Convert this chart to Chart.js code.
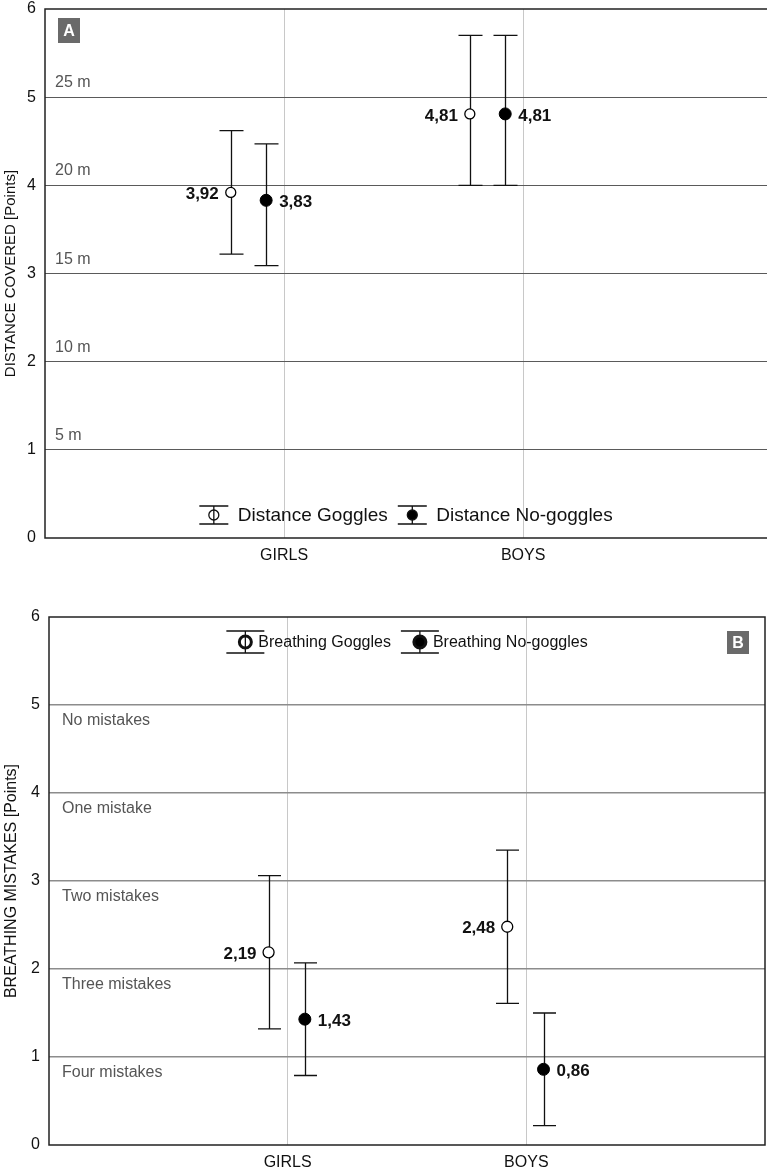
<!DOCTYPE html>
<html>
<head>
<meta charset="utf-8">
<script src="https://cdn.jsdelivr.net/npm/chart.js@4.4.1/dist/chart.umd.min.js"></script>
<style>
  body { margin: 0; background: #fff; }
  canvas { position: absolute; left: 0; }
  #chartA { top: 0; }
  #chartB { top: 578px; }
</style>
</head>
<body>
<canvas id="chartA" width="767" height="575"></canvas>
<canvas id="chartB" width="767" height="594"></canvas>
<script>
// data
const categories = ['GIRLS', 'BOYS'];
const yTicks = [0, 1, 2, 3, 4, 5, 6];

// panel A - distance covered
const distGoggles = [3.92, 4.81];
const distGogglesUp = [4.62, 5.70];
const distGogglesLow = [3.22, 4.00];
const distNoGoggles = [3.83, 4.81];
const distNoGogglesUp = [4.47, 5.70];
const distNoGogglesLow = [3.09, 4.00];
const distLevels = ['5 m', '10 m', '15 m', '20 m', '25 m'];

// panel B - breathing mistakes
const breGoggles = [2.19, 2.48];
const breGogglesUp = [3.06, 3.35];
const breGogglesLow = [1.32, 1.61];
const breNoGoggles = [1.43, 0.86];
const breNoGogglesUp = [2.07, 1.50];
const breNoGogglesLow = [0.79, 0.22];
const breLevels = ['Four mistakes', 'Three mistakes', 'Two mistakes', 'One mistake', 'No mistakes'];

const FONT = '"Liberation Sans", Arial, sans-serif';
Chart.defaults.font.family = FONT;
Chart.defaults.color = '#111';

const comma = v => v.toFixed(2).replace('.', ',');

function series(label, values, up, low, dx, filled, r, side) {
    return {
        label, up, low, filled, side,
        data: values.map((v, i) => ({ x: i + 1 + dx, y: v })),
        pointRadius: r,
        pointHoverRadius: r,
        pointBackgroundColor: filled ? '#000' : '#fff',
        pointBorderColor: '#000',
        pointBorderWidth: filled ? 1 : 1.3,
        showLine: false
    };
}

// error bars behind the points, value labels on top
const errorBars = {
    id: 'errorBars',
    beforeDatasetsDraw(chart, args, o) {
        const { ctx, scales: { x, y } } = chart;
        ctx.save();
        ctx.strokeStyle = '#111';
        ctx.lineWidth = 1.3;
        chart.data.datasets.forEach(ds => {
            ds.data.forEach((p, i) => {
                const px = Math.round(x.getPixelForValue(p.x)) + 0.5;
                const top = y.getPixelForValue(ds.up[i]);
                const bot = y.getPixelForValue(ds.low[i]);
                ctx.beginPath();
                ctx.moveTo(px, top); ctx.lineTo(px, bot);
                ctx.moveTo(px - o.cap, top); ctx.lineTo(px + o.cap, top);
                ctx.moveTo(px - o.cap, bot); ctx.lineTo(px + o.cap, bot);
                ctx.stroke();
            });
        });
        ctx.restore();
    },
    afterDatasetsDraw(chart) {
        const { ctx, scales: { x, y } } = chart;
        ctx.save();
        ctx.font = 'bold 17px ' + FONT;
        ctx.fillStyle = '#111';
        ctx.textBaseline = 'middle';
        chart.data.datasets.forEach(ds => {
            ds.data.forEach(p => {
                const px = x.getPixelForValue(p.x);
                const py = y.getPixelForValue(p.y) + 2;
                if (ds.side === 'left') {
                    ctx.textAlign = 'right';
                    ctx.fillText(comma(p.y), px - 12, py);
                } else {
                    ctx.textAlign = 'left';
                    ctx.fillText(comma(p.y), px + 13, py);
                }
            });
        });
        ctx.restore();
    }
};

// frame, level texts, panel letter and legend
const decor = {
    id: 'decor',
    beforeDatasetsDraw(chart, args, o) {
        const { ctx, chartArea: a, scales: { y } } = chart;
        ctx.save();
        ctx.font = '16px ' + FONT;
        ctx.fillStyle = '#555';
        ctx.textAlign = 'left';
        ctx.textBaseline = 'alphabetic';
        o.levels.forEach((t, i) => {
            const py = y.getPixelForValue(i + 1);
            ctx.fillText(t, a.left + o.levelDx, py + o.levelDy);
        });

        ctx.strokeStyle = '#222';
        ctx.lineWidth = 1.5;
        ctx.beginPath();
        ctx.moveTo(a.right, a.top);
        ctx.lineTo(a.left, a.top);
        ctx.lineTo(a.left, a.bottom);
        ctx.lineTo(a.right, a.bottom);
        if (o.frameRight) ctx.closePath();
        ctx.stroke();

        const b = o.letter;
        const bx = b.fromRight ? a.right - b.dx : a.left + b.dx;
        ctx.fillStyle = '#6a6a6a';
        ctx.fillRect(bx, a.top + b.dy, b.w, b.h);
        ctx.fillStyle = '#fff';
        ctx.font = 'bold 16px ' + FONT;
        ctx.textAlign = 'center';
        ctx.textBaseline = 'middle';
        ctx.fillText(b.text, bx + b.w / 2, a.top + b.dy + b.h / 2 + 1);
        ctx.restore();
    },
    afterDraw(chart, args, o) {
        const { ctx, chartArea: a } = chart;
        const L = o.legend;
        const items = chart.data.datasets;
        ctx.save();
        ctx.font = L.font;
        const itemW = items.map(ds => L.capHalf + L.textDx + ctx.measureText(ds.label).width);
        const total = itemW.reduce((s, w) => s + w, 0) + L.gap * (items.length - 1);
        let x = (a.left + a.right) / 2 - total / 2;
        const cy = L.top ? a.top + L.dy : a.bottom - L.dy;
        items.forEach((ds, i) => {
            const cx = x + L.capHalf;
            ctx.strokeStyle = '#111';
            ctx.lineWidth = 1.3;
            ctx.beginPath();
            ctx.moveTo(cx - L.capHalf, cy - L.capH); ctx.lineTo(cx + L.capHalf, cy - L.capH);
            ctx.moveTo(cx - L.capHalf, cy + L.capH); ctx.lineTo(cx + L.capHalf, cy + L.capH);
            ctx.moveTo(cx, cy - L.capH); ctx.lineTo(cx, cy + L.capH);
            ctx.stroke();
            ctx.beginPath();
            ctx.arc(cx, cy, L.r, 0, Math.PI * 2);
            ctx.fillStyle = ds.filled ? '#000' : '#fff';
            ctx.fill();
            ctx.lineWidth = L.markerLW;
            ctx.stroke();
            if (!ds.filled) {
                ctx.lineWidth = 1.3;
                ctx.beginPath();
                ctx.moveTo(cx, cy - L.r); ctx.lineTo(cx, cy + L.r);
                ctx.stroke();
            }
            ctx.fillStyle = '#111';
            ctx.textAlign = 'left';
            ctx.textBaseline = 'middle';
            ctx.fillText(ds.label, cx + L.textDx, cy + 1);
            x += itemW[i] + L.gap;
        });
        ctx.restore();
    }
};

function axes(title, titleSize, yWidth, xHeight, xMax, gridColor, gridWidth) {
    return {
        x: {
            type: 'linear', min: 0, max: xMax,
            afterBuildTicks: s => { s.ticks = [0, 1, 2, 3].map(v => ({ value: v })); },
            ticks: {
                callback: v => categories[v - 1] || '',
                font: { size: 16 }, color: '#111', padding: 8,
                maxRotation: 0, autoSkip: false
            },
            grid: {
                color: c => (c.tick && c.tick.value > 0 && c.tick.value < 3) ? '#c8c8c8' : 'rgba(0,0,0,0)',
                drawTicks: false
            },
            border: { display: false },
            afterFit: s => { s.height = xHeight; s.paddingLeft = 0; s.paddingRight = 0; }
        },
        y: {
            min: 0, max: 6,
            afterBuildTicks: s => { s.ticks = yTicks.map(v => ({ value: v })); },
            ticks: { font: { size: 16 }, color: '#111', padding: 9 },
            grid: {
                color: c => (c.tick && c.tick.value > 0 && c.tick.value < 6) ? gridColor : 'rgba(0,0,0,0)',
                lineWidth: gridWidth,
                drawTicks: false
            },
            border: { display: false },
            title: { display: true, text: title, font: { size: titleSize }, color: '#111', padding: { top: 2, bottom: 2 } },
            afterFit: s => { s.width = yWidth; s.paddingTop = 0; s.paddingBottom = 0; }
        }
    };
}

new Chart(document.getElementById('chartA'), {
    type: 'scatter',
    data: {
        datasets: [
            series('Distance Goggles', distGoggles, distGogglesUp, distGogglesLow, -0.223, false, 5, 'left'),
            series('Distance No-goggles', distNoGoggles, distNoGogglesUp, distNoGogglesLow, -0.075, true, 6, 'right')
        ]
    },
    options: {
        responsive: false,
        animation: false,
        devicePixelRatio: 1,
        events: [],
        layout: { autoPadding: false, padding: { top: 9, right: 0, left: 0, bottom: 0 } },
        scales: axes('DISTANCE COVERED [Points]', 15, 45, 37, 3.02, '#5a5a5a', 1),
        plugins: {
            legend: { display: false },
            tooltip: { enabled: false },
            errorBars: { cap: 12 },
            decor: {
                levels: distLevels, levelDx: 10, levelDy: -10, frameRight: false,
                letter: { text: 'A', dx: 13, dy: 9, w: 22, h: 25, fromRight: false },
                legend: { font: '19px ' + FONT, capHalf: 14.5, capH: 9, r: 5, markerLW: 1.3, textDx: 24, gap: 10, top: false, dy: 23 }
            }
        }
    },
    plugins: [decor, errorBars]
});

new Chart(document.getElementById('chartB'), {
    type: 'scatter',
    data: {
        datasets: [
            series('Breathing Goggles', breGoggles, breGogglesUp, breGogglesLow, -0.08, false, 5.5, 'left'),
            series('Breathing No-goggles', breNoGoggles, breNoGogglesUp, breNoGogglesLow, 0.072, true, 6, 'right')
        ]
    },
    options: {
        responsive: false,
        animation: false,
        devicePixelRatio: 1,
        events: [],
        layout: { autoPadding: false, padding: { top: 39, right: 2, left: 0, bottom: 0 } },
        scales: axes('BREATHING MISTAKES [Points]', 16, 49, 27, 3, '#8c8c8c', 1.6),
        plugins: {
            legend: { display: false },
            tooltip: { enabled: false },
            errorBars: { cap: 11.5 },
            decor: {
                levels: breLevels, levelDx: 13, levelDy: 20, frameRight: true,
                letter: { text: 'B', dx: 38, dy: 14, w: 22, h: 23, fromRight: true },
                legend: { font: '16px ' + FONT, capHalf: 19, capH: 11, r: 6, markerLW: 3, textDx: 13, gap: 10, top: true, dy: 25 }
            }
        }
    },
    plugins: [decor, errorBars]
});
</script>
</body>
</html>
